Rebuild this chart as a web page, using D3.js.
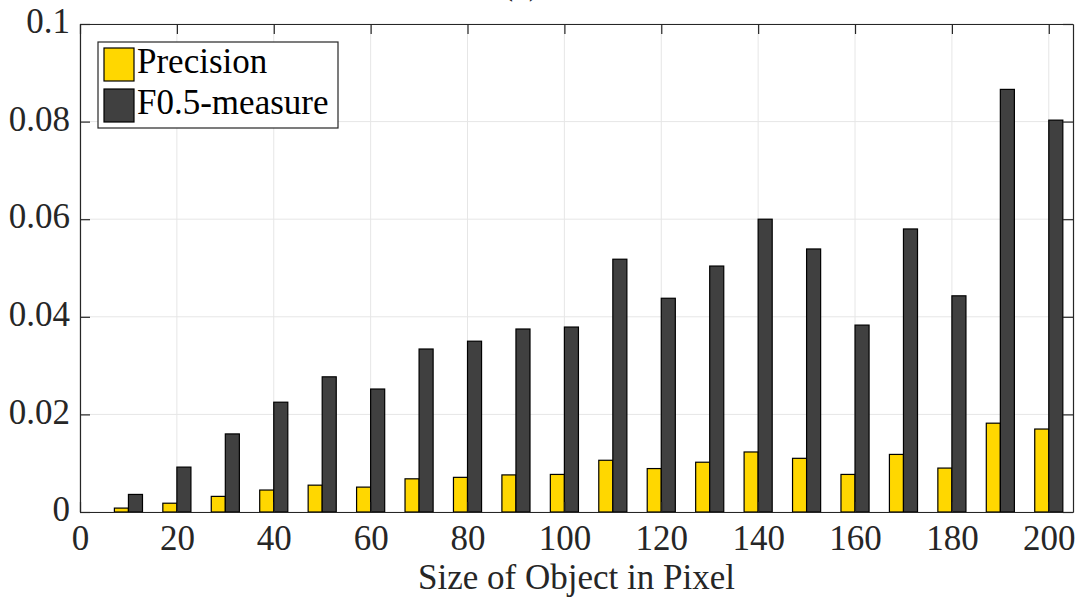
<!DOCTYPE html>
<html>
<head>
<meta charset="utf-8">
<script src="https://cdn.jsdelivr.net/npm/d3@7"></script>
<style>
  body { margin: 0; background: #fff; }
</style>
</head>
<body>
<div id="chart"></div>
<script>
// data
var sizes = [10, 20, 30, 40, 50, 60, 70, 80, 90, 100, 110, 120, 130, 140, 150, 160, 170, 180, 190, 200];
var precision = [0.0008, 0.0018, 0.0032, 0.0045, 0.0055, 0.0051, 0.0068, 0.0071, 0.0076, 0.0077,
                 0.0106, 0.0089, 0.0102, 0.0123, 0.0110, 0.0077, 0.0118, 0.0090, 0.0182, 0.0170];
var fMeasure = [0.0036, 0.0092, 0.0160, 0.0225, 0.0277, 0.0252, 0.0334, 0.0350, 0.0375, 0.0379,
                0.0518, 0.0438, 0.0504, 0.0600, 0.0539, 0.0383, 0.0580, 0.0443, 0.0866, 0.0803];
var seriesNames = ["Precision", "F0.5-measure"];
var xTicks = [0, 20, 40, 60, 80, 100, 120, 140, 160, 180, 200];
var yTicks = [0, 0.02, 0.04, 0.06, 0.08, 0.1];
var yTickLabels = ["0", "0.02", "0.04", "0.06", "0.08", "0.1"];

var svgWidth = 1083;
var svgHeight = 601;

var margin = { top: 24, right: 10, bottom: 89, left: 80 };
var width = svgWidth - margin.left - margin.right;
var height = svgHeight - margin.top - margin.bottom;

var font = '"Liberation Serif"';
var fontSize = "35px";
var colors = ["#ffd700", "#404040"];
var axisColor = "#262626";
var gridColor = "#e6e6e6";
var barUnits = 2.9;   // width of one bar in x units
var tickLen = 10;

var svg = d3.select("#chart")
    .append("svg")
    .attr("width", svgWidth)
    .attr("height", svgHeight);

var chartGroup = svg.append("g")
    .attr("transform", `translate(${margin.left}, ${margin.top})`);

var xScale = d3.scaleLinear()
    .domain([0, 205])
    .range([0, width]);

var yScale = d3.scaleLinear()
    .domain([0, 0.1])
    .range([height, 0]);

// grid
chartGroup.append("g")
    .selectAll("line")
    .data(xTicks)
    .enter()
    .append("line")
    .attr("x1", d => xScale(d))
    .attr("x2", d => xScale(d))
    .attr("y1", 0)
    .attr("y2", height)
    .attr("stroke", gridColor);

chartGroup.append("g")
    .selectAll("line")
    .data(yTicks)
    .enter()
    .append("line")
    .attr("x1", 0)
    .attr("x2", width)
    .attr("y1", d => yScale(d))
    .attr("y2", d => yScale(d))
    .attr("stroke", gridColor);

// bars
var series = [precision, fMeasure];
series.forEach(function (vals, s) {
    chartGroup.append("g")
        .selectAll("rect")
        .data(vals)
        .enter()
        .append("rect")
        .attr("x", (d, i) => xScale(sizes[i] + (s - 1) * barUnits))
        .attr("width", xScale(barUnits) - xScale(0))
        .attr("y", d => yScale(d))
        .attr("height", d => yScale(0) - yScale(d))
        .attr("fill", colors[s])
        .attr("stroke", "#000")
        .attr("stroke-width", 1.2);
});

// axes (MATLAB style, ticks inward, box on)
var bottomAxis = d3.axisBottom(xScale).tickValues(xTicks).tickSizeInner(-tickLen).tickSizeOuter(0).tickPadding(13);
var topAxis = d3.axisTop(xScale).tickValues(xTicks).tickSizeInner(-tickLen).tickSizeOuter(0).tickFormat("");
var leftAxis = d3.axisLeft(yScale).tickValues(yTicks).tickSizeInner(-tickLen).tickSizeOuter(0).tickPadding(10)
    .tickFormat((d, i) => yTickLabels[i]);
var rightAxis = d3.axisRight(yScale).tickValues(yTicks).tickSizeInner(-tickLen).tickSizeOuter(0).tickFormat("");

function styleAxis(g) {
    g.attr("font-family", null).attr("font-size", null);
    g.selectAll("path").attr("stroke", axisColor).attr("stroke-width", 1.2);
    g.selectAll("line").attr("stroke", axisColor).attr("stroke-width", 1.2);
    g.selectAll("text")
        .attr("fill", axisColor)
        .style("font-size", fontSize)
        .style("font-family", font);
}

chartGroup.append("g")
    .attr("transform", `translate(0, ${height})`)
    .call(bottomAxis)
    .call(styleAxis);

chartGroup.append("g")
    .call(topAxis)
    .call(styleAxis);

chartGroup.append("g")
    .call(leftAxis)
    .call(styleAxis)
    .selectAll("text")
    .attr("dy", "0.25em");

chartGroup.append("g")
    .attr("transform", `translate(${width}, 0)`)
    .call(rightAxis)
    .call(styleAxis);

// x label
chartGroup.append("text")
    .attr("x", width / 2)
    .attr("y", height + 77)
    .attr("text-anchor", "middle")
    .attr("fill", axisColor)
    .style("font-family", font)
    .style("font-size", fontSize)
    .text("Size of Object in Pixel");

// title, mostly above the visible area as in the reference
svg.append("text")
    .attr("x", 521)
    .attr("y", -6)
    .attr("text-anchor", "middle")
    .attr("fill", axisColor)
    .style("font-family", font)
    .style("font-size", fontSize)
    .text("(c)");

// legend
var legend = svg.append("g")
    .attr("transform", "translate(98, 42)");

legend.append("rect")
    .attr("width", 240)
    .attr("height", 86)
    .attr("fill", "#fff")
    .attr("stroke", axisColor)
    .attr("stroke-width", 1.2);

var legendItems = legend.selectAll(".legendItem")
    .data(seriesNames)
    .enter()
    .append("g")
    .classed("legendItem", true)
    .attr("transform", (d, i) => `translate(6, ${6 + i * 41})`);

legendItems.append("rect")
    .attr("width", 30)
    .attr("height", 33)
    .attr("fill", (d, i) => colors[i])
    .attr("stroke", "#000")
    .attr("stroke-width", 1.2);

legendItems.append("text")
    .attr("x", 33)
    .attr("y", 25)
    .attr("fill", "#000")
    .style("font-family", font)
    .style("font-size", fontSize)
    .text(d => d);
</script>
</body>
</html>
